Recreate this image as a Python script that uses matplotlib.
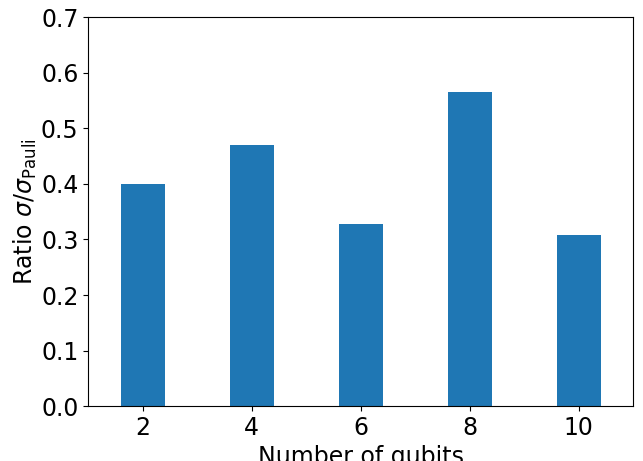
import numpy as np
import matplotlib.pyplot as plt

# число кубитов и отношение sigma / sigma_Pauli
n_qubits = [2, 4, 6, 8, 10]
ratio = [0.400, 0.470, 0.328, 0.566, 0.308]

plt.rcParams['font.size'] = 17

fig, ax = plt.subplots(figsize=(6.43, 4.61), dpi=100)
fig.subplots_adjust(left=0.1373, right=0.985, top=0.9625, bottom=0.119)

ax.bar(n_qubits, ratio, width=0.8, color='#1f77b4')
ax.set_xlim(1, 11)
ax.set_ylim(0, 0.7)
ax.set_xticks(n_qubits)
ax.set_yticks(np.arange(0, 0.71, 0.1))
ax.set_xlabel('Number of qubits')
ax.set_ylabel(r'Ratio $\sigma/\sigma_{\mathrm{Pauli}}$', labelpad=1.5)

fig.savefig('out.png', dpi=100)
